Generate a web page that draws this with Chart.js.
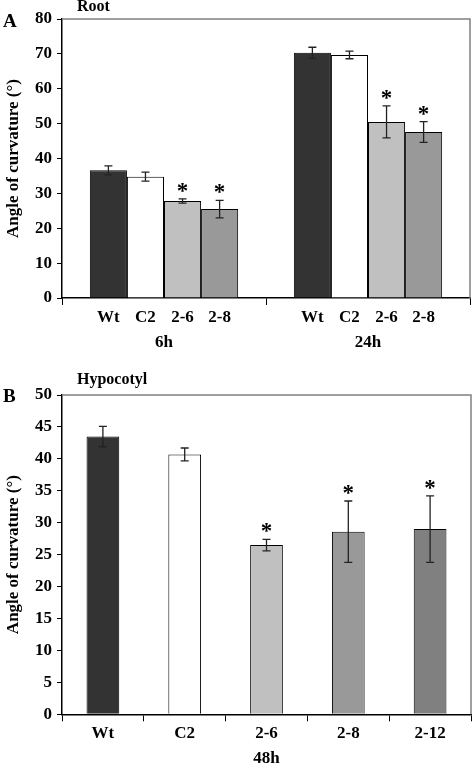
<!DOCTYPE html>
<html>
<head>
<meta charset="utf-8">
<script src="https://cdn.jsdelivr.net/npm/chart.js@4.4.1/dist/chart.umd.min.js"></script>
<style>
    html, body { margin: 0; padding: 0; background: #fff; overflow: hidden; }
    body { width: 473px; height: 766px; position: relative; }
    .panel { position: absolute; left: 0; width: 473px; }
    #rootPanel { top: 0; height: 365px; }
    #hypoPanel { top: 370px; height: 400px; }
</style>
</head>
<body>
<div class="panel" id="rootPanel"><canvas id="rootChart"></canvas></div>
<div class="panel" id="hypoPanel"><canvas id="hypoChart"></canvas></div>
<script>
// Panel A - root curvature at 6h and 24h
const rootTimes = ['6h', '24h'];
const rootLines = ['Wt', 'C2', '2-6', '2-8'];
const rootMeans = [
    [36.6, 70.3],   // Wt
    [34.8, 69.7],   // C2
    [27.8, 50.5],   // 2-6
    [25.5, 47.6]    // 2-8
];
const rootErrors = [
    [1.3, 1.6],
    [1.3, 1.1],
    [0.6, 4.6],
    [2.5, 3.0]
];
const rootSignificant = [
    [false, false],
    [false, false],
    [true, true],
    [true, true]
];
const rootTicks = [0, 10, 20, 30, 40, 50, 60, 70, 80];

// Panel B - hypocotyl curvature at 48h
const hypoLines = ['Wt', 'C2', '2-6', '2-8', '2-12'];
const hypoMeans = [43.5, 40.7, 26.5, 28.6, 29.0];
const hypoErrors = [1.6, 1.0, 0.9, 4.8, 5.2];
const hypoSignificant = [false, false, true, true, true];
const hypoTicks = [0, 5, 10, 15, 20, 25, 30, 35, 40, 45, 50];

const lineColors = {
    'Wt': '#333333',
    'C2': '#ffffff',
    '2-6': '#c0c0c0',
    '2-8': '#999999',
    '2-12': '#808080'
};

const serif = "'Liberation Serif', 'Times New Roman', serif";

// Error bars, asterisks, frame and panel captions
function makeExtrasPlugin(errors, flags, letter, caption, letterY, captionY, seriesLabelY) {
    return {
        id: 'extras' + letter,
        afterDatasetsDraw(chart) {
            const ctx = chart.ctx;
            const y = chart.scales.y;
            const area = chart.chartArea;
            ctx.save();

            // grey frame on top and right
            ctx.strokeStyle = '#808080';
            ctx.lineWidth = 1.5;
            ctx.beginPath();
            ctx.moveTo(area.left, area.top);
            ctx.lineTo(area.right, area.top);
            ctx.lineTo(area.right, area.bottom);
            ctx.stroke();

            chart.data.datasets.forEach((ds, i) => {
                const meta = chart.getDatasetMeta(i);
                meta.data.forEach((bar, j) => {
                    const v = ds.data[j];
                    const e = errors(i, j);
                    const yTop = y.getPixelForValue(v + e);
                    const yBot = y.getPixelForValue(v - e);
                    ctx.strokeStyle = '#222';
                    ctx.lineWidth = 1.3;
                    ctx.beginPath();
                    ctx.moveTo(bar.x, yTop);
                    ctx.lineTo(bar.x, yBot);
                    ctx.moveTo(bar.x - 4, yTop);
                    ctx.lineTo(bar.x + 4, yTop);
                    ctx.moveTo(bar.x - 4, yBot);
                    ctx.lineTo(bar.x + 4, yBot);
                    ctx.stroke();

                    if (flags(i, j)) {
                        ctx.fillStyle = '#000';
                        ctx.font = 'bold 23px ' + serif;
                        ctx.textAlign = 'center';
                        ctx.textBaseline = 'alphabetic';
                        ctx.fillText('*', bar.x, yTop - 1);
                    }

                    if (seriesLabelY !== null) {
                        ctx.fillStyle = '#000';
                        ctx.font = 'bold 17px ' + serif;
                        ctx.textAlign = 'center';
                        ctx.textBaseline = 'middle';
                        ctx.fillText(ds.label, bar.x, seriesLabelY);
                    }
                });
            });

            ctx.fillStyle = '#000';
            ctx.textBaseline = 'middle';
            ctx.textAlign = 'left';
            ctx.font = 'bold 19px ' + serif;
            ctx.fillText(letter, 3, letterY);
            ctx.font = 'bold 16px ' + serif;
            ctx.fillText(caption, 77, captionY);
            ctx.restore();
        }
    };
}

function yAxis(maxVal, step) {
    return {
        min: 0,
        max: maxVal,
        ticks: {
            stepSize: step,
            padding: 5,
            color: '#000',
            font: { family: serif, size: 17, weight: 'bold' }
        },
        grid: {
            drawOnChartArea: false,
            drawTicks: true,
            tickLength: 5,
            color: '#000',
            lineWidth: 1
        },
        border: { display: true, color: '#000', width: 1.5 },
        title: {
            display: true,
            text: 'Angle of curvature (°)',
            color: '#000',
            padding: { top: 3, bottom: 0 },
            font: { family: serif, size: 17, weight: 'bold' }
        },
        afterFit(scale) { scale.width = 62; }
    };
}

function initializeRootChart() {
    const datasets = rootLines.map((name, i) => ({
        label: name,
        data: rootMeans[i],
        backgroundColor: lineColors[name],
        borderColor: '#000',
        borderWidth: 1,
        categoryPercentage: 0.727,
        barPercentage: 1.0
    }));
    const yOpts = yAxis(rootTicks[rootTicks.length - 1], rootTicks[1] - rootTicks[0]);

    return new Chart(document.getElementById('rootChart'), {
        type: 'bar',
        data: { labels: rootTimes, datasets: datasets },
        options: {
            responsive: false,
            animation: false,
            devicePixelRatio: 1,
            layout: { padding: { top: 19, right: 3, left: 0, bottom: 0 } },
            plugins: { legend: { display: false }, tooltip: { enabled: false } },
            scales: {
                x: {
                    ticks: {
                        padding: 27,
                        color: '#000',
                        font: { family: serif, size: 17, weight: 'bold' }
                    },
                    grid: {
                        offset: true,
                        drawOnChartArea: false,
                        drawTicks: true,
                        tickLength: 7,
                        color: '#000'
                    },
                    border: { display: true, color: '#000', width: 1.5 },
                    afterFit(scale) { scale.height = 67; }
                },
                y: yOpts
            }
        },
        plugins: [makeExtrasPlugin(
            (i, j) => rootErrors[i][j],
            (i, j) => rootSignificant[i][j],
            'A', 'Root', 22, 7, 318
        )]
    });
}

function initializeHypoChart() {
    const yOpts = yAxis(hypoTicks[hypoTicks.length - 1], hypoTicks[1] - hypoTicks[0]);

    return new Chart(document.getElementById('hypoChart'), {
        type: 'bar',
        data: {
            labels: hypoLines,
            datasets: [{
                label: '48h',
                data: hypoMeans,
                backgroundColor: hypoLines.map(n => lineColors[n]),
                borderColor: '#000',
                borderWidth: 1,
                categoryPercentage: 0.4,
                barPercentage: 1.0
            }]
        },
        options: {
            responsive: false,
            animation: false,
            devicePixelRatio: 1,
            layout: { padding: { top: 25, right: 2, left: 0, bottom: 0 } },
            plugins: { legend: { display: false }, tooltip: { enabled: false } },
            scales: {
                x: {
                    ticks: {
                        padding: 2,
                        color: '#000',
                        font: { family: serif, size: 17, weight: 'bold' }
                    },
                    grid: {
                        offset: true,
                        drawOnChartArea: false,
                        drawTicks: true,
                        tickLength: 7,
                        color: '#000'
                    },
                    border: { display: true, color: '#000', width: 1.5 },
                    title: {
                        display: true,
                        text: '48h',
                        color: '#000',
                        padding: { top: 0, bottom: 1 },
                        font: { family: serif, size: 17, weight: 'bold' }
                    },
                    afterFit(scale) { scale.height = 55.7; }
                },
                y: yOpts
            }
        },
        plugins: [makeExtrasPlugin(
            (i, j) => hypoErrors[j],
            (i, j) => hypoSignificant[j],
            'B', 'Hypocotyl', 27, 10, null
        )]
    });
}

const rootCanvas = document.getElementById('rootChart');
rootCanvas.width = 473; rootCanvas.height = 365;
const hypoCanvas = document.getElementById('hypoChart');
hypoCanvas.width = 473; hypoCanvas.height = 400;

initializeRootChart();
initializeHypoChart();
</script>
</body>
</html>
